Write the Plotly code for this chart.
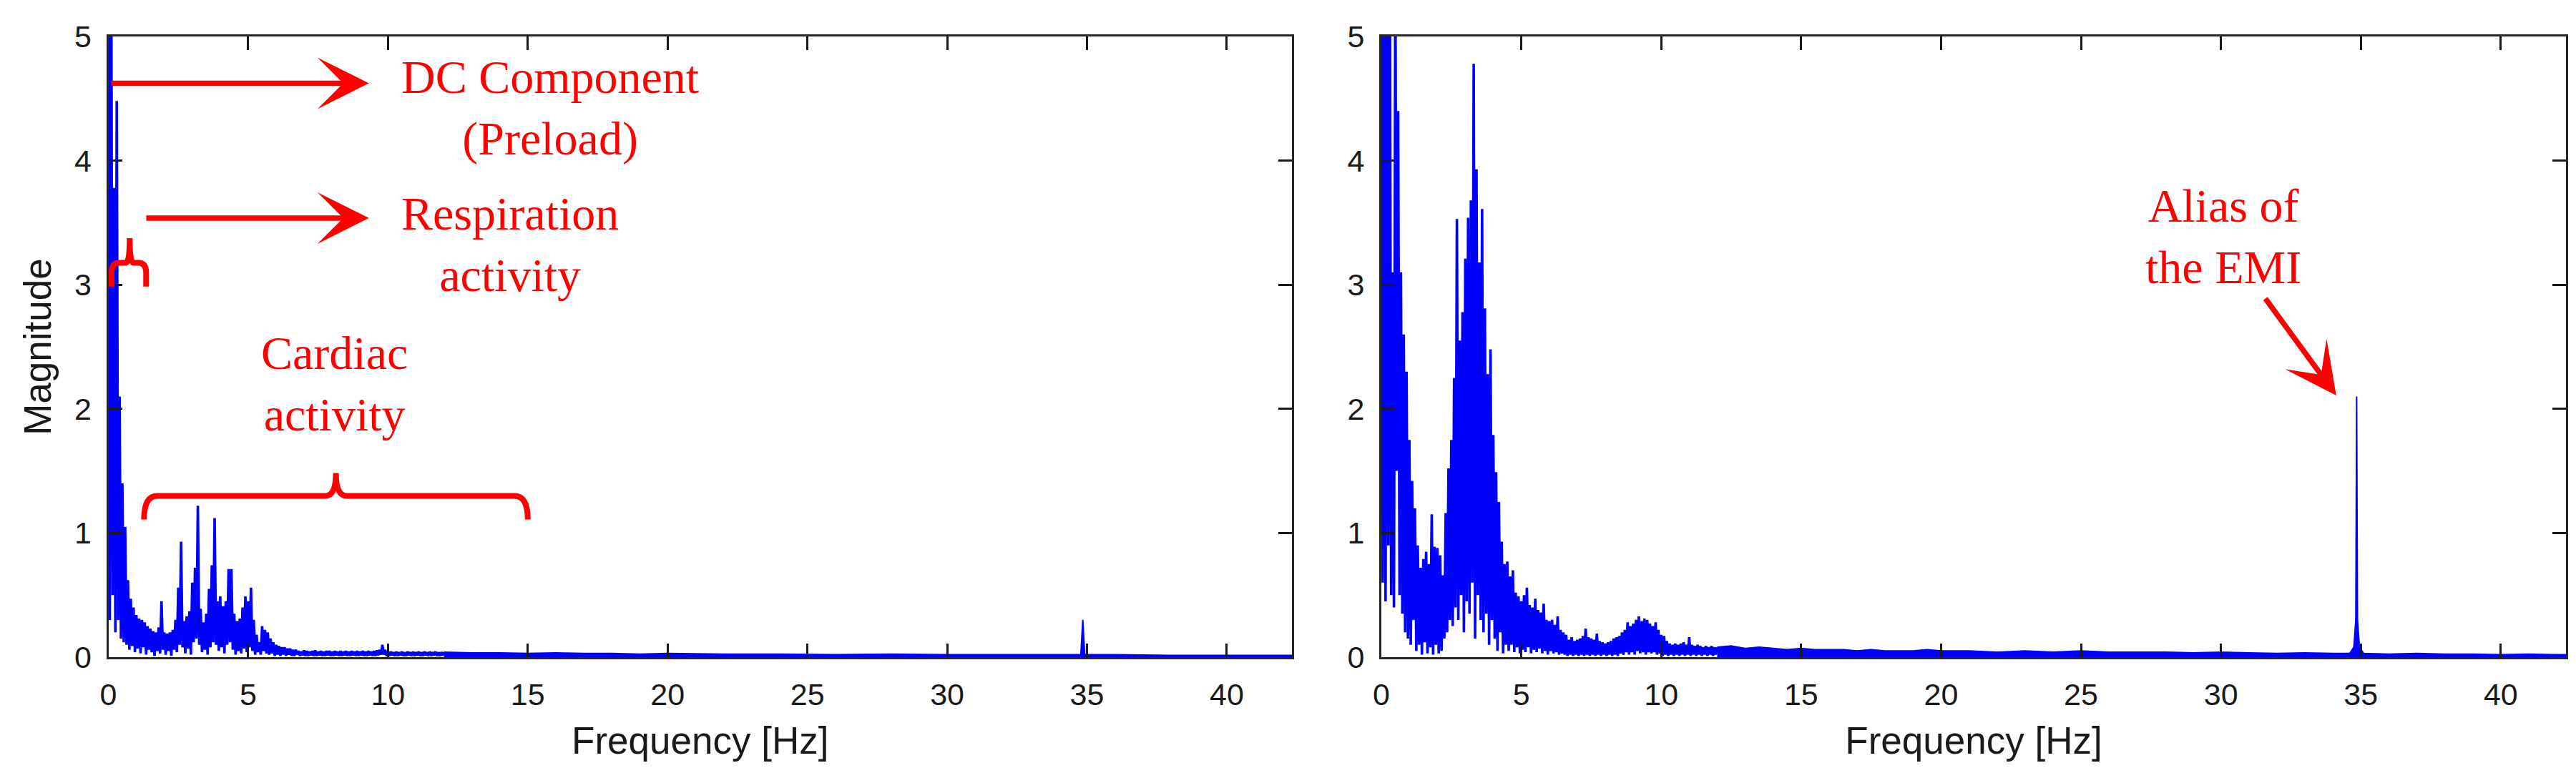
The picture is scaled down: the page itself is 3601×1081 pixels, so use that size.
import plotly.graph_objects as go
from plotly.subplots import make_subplots

# spectrum magnitudes, 0 - 12 Hz on a 0.05 Hz grid
# (samples alternate between the upper and lower edge of the dense trace)
band_step = 0.05

mag_left_band = [
    9.0, 0.3, 6.0, 0.5, 3.78, 0.2, 4.48, 0.3, 2.1, 0.15,
    1.4, 0.12, 1.05, 0.1, 0.62, 0.06, 0.47, 0.09, 0.4, 0.04,
    0.34, 0.07, 0.31, 0.03, 0.3, 0.08, 0.28, 0.02, 0.25, 0.06,
    0.23, 0.04, 0.21, 0.01, 0.2, 0.05, 0.24, 0.03, 0.45, 0.06,
    0.2, 0.02, 0.19, 0.05, 0.2, 0.01, 0.22, 0.06, 0.3, 0.04,
    0.56, 0.1, 0.93, 0.08, 0.29, 0.03, 0.33, 0.07, 0.37, 0.02,
    0.6, 0.12, 0.72, 0.15, 1.22, 0.1, 0.39, 0.04, 0.28, 0.06,
    0.35, 0.02, 0.55, 0.08, 0.74, 0.12, 1.12, 0.1, 0.45, 0.05,
    0.49, 0.08, 0.41, 0.03, 0.45, 0.1, 0.71, 0.12, 0.71, 0.06,
    0.35, 0.02, 0.29, 0.05, 0.31, 0.03, 0.4, 0.07, 0.49, 0.04,
    0.45, 0.08, 0.56, 0.05, 0.3, 0.02, 0.18, 0.04, 0.12, 0.02,
    0.25, 0.05, 0.22, 0.03, 0.2, 0.02, 0.15, 0.03, 0.12, 0.01,
    0.1, 0.02, 0.09, 0.01, 0.08, 0.02, 0.08, 0.01, 0.07, 0.02,
    0.07, 0.01, 0.06, 0.01, 0.06, 0.02, 0.05, 0.01, 0.045, 0.015,
    0.055, 0.01, 0.05, 0.01, 0.045, 0.015, 0.05, 0.01, 0.055, 0.01,
    0.045, 0.015, 0.05, 0.01, 0.045, 0.01, 0.05, 0.015, 0.05, 0.01,
    0.045, 0.01, 0.05, 0.015, 0.045, 0.01, 0.05, 0.01, 0.045, 0.015,
    0.05, 0.01, 0.045, 0.01, 0.05, 0.015, 0.045, 0.01, 0.05, 0.01,
    0.045, 0.015, 0.05, 0.01, 0.045, 0.01, 0.05, 0.015, 0.045, 0.01,
    0.05, 0.01, 0.055, 0.015, 0.06, 0.02, 0.1, 0.02, 0.06, 0.01,
    0.045, 0.01, 0.045, 0.015, 0.04, 0.01, 0.045, 0.01, 0.04, 0.015,
    0.045, 0.01, 0.04, 0.01, 0.045, 0.015, 0.04, 0.01, 0.045, 0.01,
    0.04, 0.015, 0.045, 0.01, 0.04, 0.01, 0.045, 0.015, 0.04, 0.01,
    0.045, 0.01, 0.04, 0.015, 0.045, 0.01, 0.04, 0.01, 0.04, 0.015,
    0.04,
]

mag_right_band = [
    9.0, 0.6, 6.0, 0.45, 6.0, 0.9, 6.0, 0.5, 3.1, 0.4,
    5.6, 1.5, 4.4, 0.5, 3.1, 0.35, 2.6, 0.2, 2.3, 0.15,
    1.75, 0.1, 1.42, 0.3, 1.2, 0.05, 0.9, 0.1, 0.72, 0.02,
    0.79, 0.12, 0.85, 0.03, 0.75, 0.08, 1.15, 0.02, 0.89, 0.1,
    0.88, 0.03, 0.82, 0.05, 0.66, 0.15, 1.16, 0.2, 1.52, 0.3,
    1.75, 0.25, 2.25, 0.4, 3.53, 0.3, 2.55, 0.5, 2.78, 0.2,
    3.21, 0.45, 3.54, 0.35, 3.68, 0.6, 4.78, 0.15, 3.93, 0.5,
    3.18, 0.3, 3.61, 0.2, 2.81, 0.35, 2.28, 0.1, 2.48, 0.3,
    1.79, 0.15, 1.49, 0.05, 1.25, 0.2, 0.93, 0.03, 0.75, 0.1,
    0.77, 0.05, 0.65, 0.1, 0.7, 0.04, 0.52, 0.08, 0.49, 0.03,
    0.45, 0.06, 0.5, 0.04, 0.56, 0.08, 0.42, 0.03, 0.4, 0.06,
    0.47, 0.04, 0.38, 0.07, 0.36, 0.03, 0.43, 0.05, 0.3, 0.02,
    0.29, 0.05, 0.3, 0.03, 0.26, 0.04, 0.33, 0.02, 0.22, 0.03,
    0.2, 0.02, 0.18, 0.01, 0.14, 0.02, 0.16, 0.01, 0.13, 0.02,
    0.14, 0.01, 0.15, 0.02, 0.17, 0.01, 0.23, 0.02, 0.16, 0.01,
    0.15, 0.02, 0.14, 0.01, 0.19, 0.02, 0.13, 0.01, 0.12, 0.02,
    0.11, 0.01, 0.12, 0.02, 0.13, 0.01, 0.15, 0.02, 0.16, 0.01,
    0.17, 0.03, 0.2, 0.02, 0.22, 0.04, 0.28, 0.02, 0.25, 0.04,
    0.27, 0.02, 0.3, 0.05, 0.33, 0.03, 0.29, 0.04, 0.31, 0.02,
    0.3, 0.04, 0.27, 0.03, 0.25, 0.04, 0.28, 0.02, 0.22, 0.03,
    0.18, 0.01, 0.17, 0.02, 0.13, 0.01, 0.11, 0.02, 0.1, 0.01,
    0.11, 0.02, 0.1, 0.01, 0.11, 0.02, 0.12, 0.01, 0.1, 0.02,
    0.16, 0.01, 0.1, 0.02, 0.09, 0.01, 0.1, 0.02, 0.09, 0.01,
    0.08, 0.02, 0.09, 0.01, 0.08, 0.02, 0.09, 0.01, 0.08, 0.02,
    0.08,
]

# 12 Hz up to the end of the axis, incl. the EMI alias line near 35 Hz
tail_freq_left = [12.0, 13.0, 14.0, 15.0, 16.0, 17.0, 18.0, 19.0, 20.0, 22.0,
                  24.0, 26.0, 28.0, 30.0, 32.0, 34.0, 34.78, 34.85, 34.92, 36.0,
                  38.0, 40.0, 42.4]
tail_mag_left = [0.04, 0.035, 0.035, 0.03, 0.035, 0.03, 0.03, 0.025, 0.03, 0.025,
                 0.025, 0.02, 0.025, 0.02, 0.02, 0.02, 0.02, 0.3, 0.02, 0.02,
                 0.015, 0.015, 0.015]

tail_freq_right = [12.0, 12.5, 13.0, 13.5, 14.0, 14.5, 15.0, 15.5, 16.0, 16.5,
                   17.0, 17.5, 18.0, 18.5, 19.0, 19.5, 20.0, 21.0, 22.0, 23.0,
                   24.0, 25.0, 26.0, 27.0, 28.0, 29.0, 30.0, 31.0, 32.0, 33.0,
                   34.0, 34.6, 34.75, 34.82, 34.85, 34.88, 34.95, 35.1, 36.0, 37.0,
                   38.0, 39.0, 40.0, 41.0, 42.0, 42.4]
tail_mag_right = [0.08, 0.09, 0.07, 0.08, 0.07, 0.06, 0.07, 0.06, 0.06, 0.06,
                  0.05, 0.06, 0.05, 0.05, 0.05, 0.06, 0.05, 0.05, 0.04, 0.05,
                  0.04, 0.05, 0.04, 0.04, 0.04, 0.035, 0.04, 0.035, 0.03, 0.035,
                  0.03, 0.03, 0.08, 0.3, 2.1, 0.3, 0.08, 0.03, 0.025, 0.03,
                  0.025, 0.025, 0.02, 0.025, 0.02, 0.02]

x_ticks = [0, 5, 10, 15, 20, 25, 30, 35, 40]
y_ticks = [0, 1, 2, 3, 4, 5]

band_freq_left = [round(i * band_step, 2) for i in range(len(mag_left_band))]
band_freq_right = [round(i * band_step, 2) for i in range(len(mag_right_band))]

BLUE = '#0000FF'
RED = '#FF0000'
SANS = 'Liberation Sans, Arial, sans-serif'
SERIF = 'Liberation Serif, Times New Roman, serif'

fig = make_subplots(rows=1, cols=2)

for col, bf, bm, tf, tm in [(1, band_freq_left, mag_left_band, tail_freq_left, tail_mag_left),
                            (2, band_freq_right, mag_right_band, tail_freq_right, tail_mag_right)]:
    fig.add_trace(go.Scatter(x=bf, y=bm, mode='lines',
                             line=dict(color=BLUE, width=3.6, simplify=False),
                             showlegend=False, hoverinfo='skip'), row=1, col=col)
    fig.add_trace(go.Scatter(x=tf, y=tm, mode='lines', fill='tozeroy', fillcolor=BLUE,
                             line=dict(color=BLUE, width=2, simplify=False),
                             showlegend=False, hoverinfo='skip'), row=1, col=col)

axis_common = dict(showline=True, linecolor='#262626', linewidth=3, mirror='ticks',
                   ticks='inside', ticklen=19, tickwidth=2.5, tickcolor='#1a1a1a',
                   showgrid=False, zeroline=False, automargin=False,
                   tickfont=dict(family=SANS, size=43, color='#1a1a1a'))

W, H = 3601, 1081
fig.update_xaxes(axis_common, range=[0, 42.33], tickvals=x_ticks, ticklabelstandoff=12,
                 title=dict(text='Frequency [Hz]', font=dict(family=SANS, size=53, color='#1a1a1a'),
                            standoff=24))
fig.update_yaxes(axis_common, range=[0, 5], tickvals=y_ticks, ticklabelstandoff=12)
fig.update_yaxes(title=dict(text='Magnitude', font=dict(family=SANS, size=53, color='#1a1a1a'),
                            standoff=16), row=1, col=1)

fig.update_layout(
    xaxis=dict(domain=[143.5 / W, 1798 / W]),
    xaxis2=dict(domain=[1923 / W, 3579 / W]),
    yaxis=dict(domain=[1 - 911 / H, 1 - 43 / H]),
    yaxis2=dict(domain=[1 - 911 / H, 1 - 43 / H]),
)

# two-line labels, positioned by the middle of the block
notes = [
    ('DC Component<br>(Preload)', 15.79, 4.425, 'x', 'y'),
    ('Respiration<br>activity', 14.36, 3.325, 'x', 'y'),
    ('Cardiac<br>activity', 8.09, 2.205, 'x', 'y'),
    ('Alias of<br>the EMI', 30.08, 3.39, 'x2', 'y2'),
]
for text, xx, yy, xr, yr in notes:
    fig.add_annotation(text=text, x=xx, y=yy, xref=xr, yref=yr, showarrow=False,
                       xanchor='center', yanchor='middle', align='center',
                       font=dict(family=SERIF, size=66, color=RED))

arrows = [
    (9.32, 4.623, 0.064, 4.623, 'x', 'y'),
    (9.32, 3.537, 1.317, 3.537, 'x', 'y'),
    (34.12, 2.108, 31.56, 2.897, 'x2', 'y2'),
]
for xx, yy, ax, ay, xr, yr in arrows:
    fig.add_annotation(text='', x=xx, y=yy, ax=ax, ay=ay, xref=xr, yref=yr,
                       axref=xr, ayref=yr, showarrow=True, arrowhead=3,
                       arrowsize=1.6, arrowwidth=7.5, arrowcolor=RED)

# curly brackets marking the respiration and cardiac bands
fig.add_shape(type='path', xref='x', yref='y', line=dict(color=RED, width=8),
              path='M 0.115,2.986 L 0.115,3.1 Q 0.115,3.177 0.4,3.177 L 0.62,3.177 '
                   'Q 0.762,3.177 0.762,3.376 Q 0.762,3.177 0.9,3.177 L 1.06,3.177 '
                   'Q 1.35,3.177 1.35,3.1 L 1.35,2.986')
fig.add_shape(type='path', xref='x', yref='y', line=dict(color=RED, width=8),
              path='M 1.274,1.109 Q 1.274,1.299 1.75,1.299 L 7.75,1.299 '
                   'Q 8.138,1.299 8.138,1.484 Q 8.138,1.299 8.53,1.299 L 14.52,1.299 '
                   'Q 15.0,1.299 15.0,1.109')

fig.update_layout(
    width=W, height=H,
    margin=dict(l=0, r=0, t=0, b=0),
    paper_bgcolor='white', plot_bgcolor='white',
    showlegend=False,
)

fig.write_html("out.html")
